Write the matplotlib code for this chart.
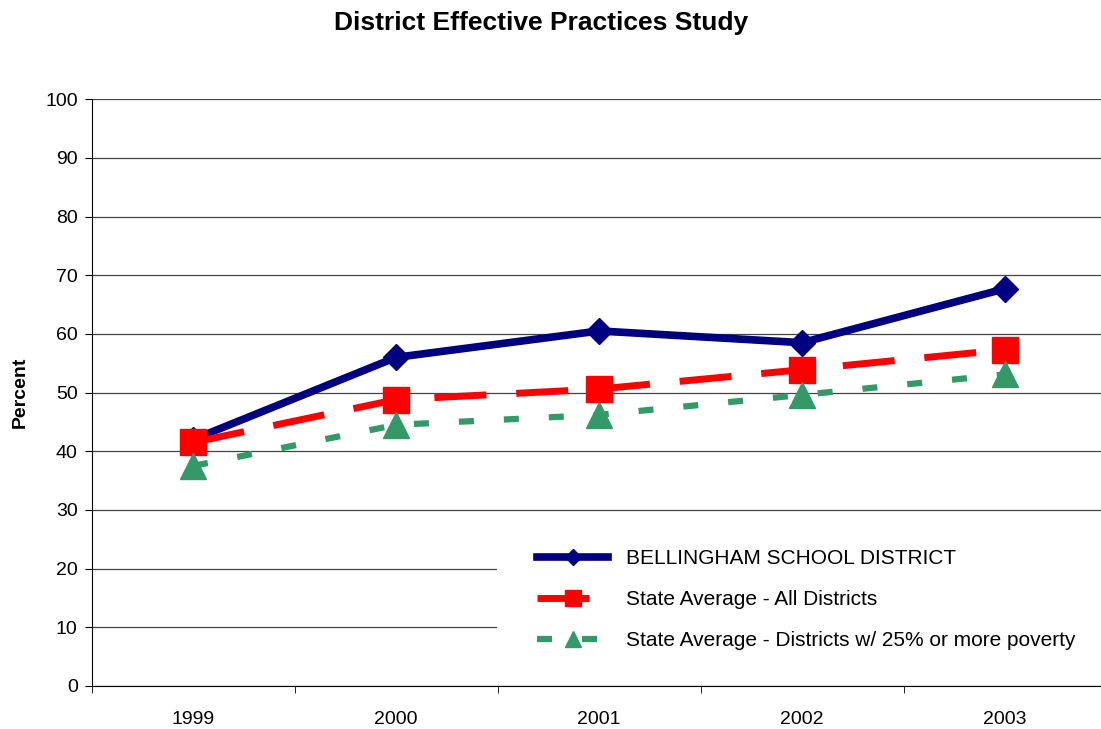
import matplotlib.pyplot as plt
from matplotlib.patches import Rectangle
import numpy as np

plt.rcParams['font.family'] = ['Liberation Sans', 'DejaVu Sans']

years = ['1999', '2000', '2001', '2002', '2003']
bellingham = [42.0, 56.0, 60.5, 58.5, 67.7]
state_all = [41.5, 48.8, 50.6, 53.9, 57.3]
state_poverty = [37.5, 44.5, 46.2, 49.6, 53.1]

x = np.arange(len(years))

fig = plt.figure(figsize=(11.01, 7.29), dpi=100)
ax = fig.add_axes([0.0832, 0.059, 0.9218, 0.805])

ax.plot(x, bellingham, color='#000080', lw=5.5, marker='D', ms=13,
        label='BELLINGHAM SCHOOL DISTRICT', zorder=3)
ax.plot(x, state_all, color='#ff0000', lw=5, ls=(0, (7.5, 4.3)), marker='s', ms=19,
        label='State Average - All Districts', zorder=4)
ax.plot(x, state_poverty, color='#339966', lw=4.5, ls=(0, (2.4, 4.8)), marker='^', ms=19,
        label='State Average - Districts w/ 25% or more poverty', zorder=5)

ax.set_xlim(-0.5, 4.5)
ax.set_ylim(0, 100)
ax.set_yticks(range(0, 101, 10))
ax.set_xticks(x)
ax.set_xticklabels(years)
ax.set_xticks(np.arange(-0.5, 4.6, 1), minor=True)
ax.tick_params(axis='x', which='major', length=0, labelsize=14, pad=18)
ax.tick_params(axis='x', which='minor', length=5, direction='out', color='black')
ax.tick_params(axis='y', length=5, direction='out', labelsize=14, pad=5)
ax.yaxis.grid(True, color='#444444', lw=0.9)
ax.set_axisbelow(True)
for s in ['top', 'right']:
    ax.spines[s].set_visible(False)
ax.spines['left'].set_color('black')
ax.spines['bottom'].set_color('black')

ax.set_ylabel('Percent', fontsize=14, fontweight='bold', labelpad=12)
fig.suptitle('District Effective Practices Study', fontsize=19, fontweight='bold',
             x=0.491, y=0.985)

# white legend area hiding the gridlines
ax.add_patch(Rectangle((0.3995, 0.002), 0.6005, 0.268, transform=ax.transAxes,
                       facecolor='white', edgecolor='none', zorder=2))

leg = ax.legend(loc='upper left', bbox_to_anchor=(0.439, 0.233), frameon=False,
                fontsize=15, handlelength=3.4, labelspacing=1.05, borderpad=0,
                borderaxespad=0, handletextpad=0.85, markerscale=0.6)
leg.set_zorder(10)

fig.savefig('out.png', dpi=100)
